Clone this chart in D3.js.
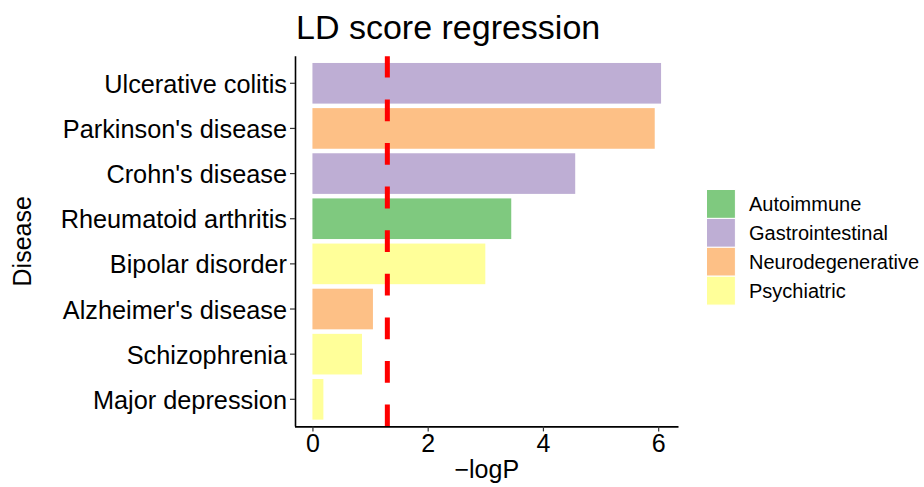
<!DOCTYPE html>
<html>
<head>
<meta charset="utf-8">
<script src="https://cdn.jsdelivr.net/npm/d3@7"></script>
<style>
  body { margin: 0; background: #fff; }
  svg { display: block; }
  text { font-family: "Liberation Sans", Arial, Helvetica, sans-serif; fill: #000; }
</style>
</head>
<body>
<svg id="chart" width="924" height="487"></svg>
<script>
const diseases = ["Ulcerative colitis", "Parkinson's disease", "Crohn's disease", "Rheumatoid arthritis",
                  "Bipolar disorder", "Alzheimer's disease", "Schizophrenia", "Major depression"];
const logP = [6.05, 5.94, 4.56, 3.45, 3.0, 1.05, 0.86, 0.19];
const groups = ["Gastrointestinal", "Neurodegenerative", "Gastrointestinal", "Autoimmune",
                "Psychiatric", "Neurodegenerative", "Psychiatric", "Psychiatric"];
const legendGroups = ["Autoimmune", "Gastrointestinal", "Neurodegenerative", "Psychiatric"];
const groupColors = ["#7FC97F", "#BEAED4", "#FDC086", "#FFFF99"];
const xTicks = [0, 2, 4, 6];
const threshold = 1.30;

(function () {
const svg = d3.select("#chart");
const pL = 295, pR = 678.5, pT = 56.2, pB = 426.4;

const maxV = d3.max(logP);
const pad = maxV * 0.05;
const x = d3.scaleLinear().domain([-pad, maxV + pad]).range([pL, pR]);
const y = d3.scaleBand().domain(diseases).range([pT, pB]).paddingInner(0.1).paddingOuter(0.15);
const color = d3.scaleOrdinal().domain(legendGroups).range(groupColors);

// bars
svg.append("g").selectAll("rect").data(diseases).join("rect")
  .attr("x", x(0))
  .attr("y", d => y(d))
  .attr("width", (d, i) => x(logP[i]) - x(0))
  .attr("height", y.bandwidth())
  .attr("fill", (d, i) => color(groups[i]));

// threshold dashed line (drawn from bottom to top)
svg.append("line")
  .attr("x1", x(threshold)).attr("x2", x(threshold))
  .attr("y1", pB).attr("y2", pT)
  .attr("stroke", "#FF0000").attr("stroke-width", 5)
  .attr("stroke-dasharray", "21.8 21.8");

// axes
const xAxis = d3.axisBottom(x).tickValues(xTicks).tickSize(5).tickPadding(3).tickFormat(d3.format("d"));
const gx = svg.append("g").attr("transform", `translate(0,${pB})`).call(xAxis);
gx.select(".domain").attr("d", `M${pL},0.5H${pR}`).attr("stroke", "#000").attr("stroke-width", 1.6);
gx.selectAll(".tick line").attr("stroke", "#333").attr("stroke-width", 1.2);
gx.selectAll(".tick text").style("font-size", "25px").attr("fill", "#000");

const yAxis = d3.axisLeft(y).tickSize(5).tickPadding(3);
const gy = svg.append("g").attr("transform", `translate(${pL},0)`).call(yAxis);
gy.select(".domain").attr("d", `M0.5,${pT}V${pB}`).attr("stroke", "#000").attr("stroke-width", 1.6);
gy.selectAll(".tick line").attr("stroke", "#333").attr("stroke-width", 1.2);
gy.selectAll(".tick text").style("font-size", "25.3px").attr("fill", "#000").attr("dy", "0.38em");

// titles
svg.append("text").attr("x", 296).attr("y", 39)
  .style("font-size", "34px").text("LD score regression");
svg.append("text").attr("x", (pL + pR) / 2).attr("y", 478)
  .attr("text-anchor", "middle").style("font-size", "25px").text("\u2212logP");
svg.append("text")
  .attr("transform", `translate(31,${(pT + pB) / 2}) rotate(-90)`)
  .attr("text-anchor", "middle").style("font-size", "25px").text("Disease");

// legend
const keySize = 28.9;
const lg = svg.append("g").attr("transform", "translate(706.5,189.5)");
const items = lg.selectAll("g").data(legendGroups).join("g")
  .attr("transform", (d, i) => `translate(0,${i * keySize})`);
items.append("rect").attr("width", keySize).attr("height", keySize)
  .attr("fill", d => color(d)).attr("stroke", "#fff").attr("stroke-width", 1);
items.append("text").attr("x", 42.5).attr("y", keySize / 2 + 7)
  .style("font-size", "20px").text(d => d);
})();
</script>
</body>
</html>
